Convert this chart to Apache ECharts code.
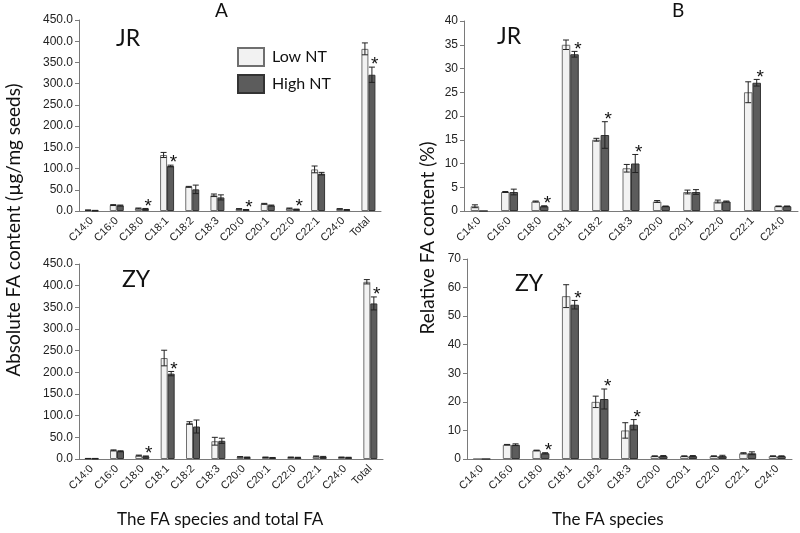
<!DOCTYPE html>
<html>
<head>
<meta charset="utf-8">
<title>FA content</title>
<script src="https://cdn.jsdelivr.net/npm/echarts@6/dist/echarts.min.js"></script>
<style>
  html, body { margin: 0; padding: 0; background: #fff; }
  #main { width: 800px; height: 533px; }
</style>
</head>
<body>
<div id="main"></div>
<script>
// categories
var catsA = ['C14:0', 'C16:0', 'C18:0', 'C18:1', 'C18:2', 'C18:3', 'C20:0', 'C20:1', 'C22:0', 'C22:1', 'C24:0', 'Total'];
var catsB = ['C14:0', 'C16:0', 'C18:0', 'C18:1', 'C18:2', 'C18:3', 'C20:0', 'C20:1', 'C22:0', 'C22:1', 'C24:0'];

// A - JR, absolute content
var aJrLow = [2, 14, 6, 132, 57, 37, 5, 17, 6, 98, 5, 382];
var aJrLowErr = [0.5, 1, 1, 6, 1, 3, 0.5, 1, 1, 8, 0.5, 14];
var aJrHigh = [1, 13, 5, 106, 51, 32, 3, 13, 4, 88, 3, 321];
var aJrHighErr = [0.5, 1, 1, 2, 10, 6, 0.5, 1, 0.5, 3, 0.5, 18];
var aJrStar = ['C18:0', 'C18:1', 'C20:0', 'C22:0', 'Total'];

// A - ZY, absolute content
var aZyLow = [1, 20, 8, 233, 83, 41, 5, 4, 4, 6, 4, 409];
var aZyLowErr = [0.3, 1, 1, 18, 3, 9, 0.5, 0.5, 0.5, 1, 0.5, 5];
var aZyHigh = [1, 18, 6, 197, 75, 42, 4, 3, 3.5, 5, 3.5, 359];
var aZyHighErr = [0.3, 1, 1, 5, 15, 6, 0.5, 0.5, 0.5, 1, 0.5, 15];
var aZyStar = ['C18:0', 'C18:1', 'Total'];

// B - JR, relative content
var bJrLow = [1, 4, 2, 35, 15, 9, 2, 4, 2, 25, 1];
var bJrLowErr = [0.3, 0.1, 0.1, 1, 0.3, 0.8, 0.2, 0.4, 0.3, 2.2, 0.05];
var bJrHigh = [0, 4, 1, 33, 16, 10, 1, 4, 2, 27, 1];
var bJrHighErr = [0, 0.6, 0.1, 0.6, 2.8, 1.9, 0.05, 0.5, 0.1, 0.7, 0.05];
var bJrStar = ['C18:0', 'C18:1', 'C18:2', 'C18:3', 'C22:1'];

// B - ZY, relative content
var bZyLow = [0, 5, 3, 57, 20, 10, 1, 1, 1, 2, 1];
var bZyLowErr = [0, 0.1, 0.1, 4, 2, 2.7, 0.1, 0.1, 0.1, 0.2, 0.1];
var bZyHigh = [0, 5, 2, 54, 21, 12, 1, 1, 1, 2, 1];
var bZyHighErr = [0, 0.3, 0.2, 1.5, 3.5, 1.8, 0.2, 0.2, 0.3, 0.5, 0.1];
var bZyStar = ['C18:0', 'C18:1', 'C18:2', 'C18:3'];

var lowColor = '#f2f2f2', lowBorder = '#6f6f6f';
var highColor = '#5c5c5c', highBorder = '#333333';
var titleFont = 'Lato';
var tickFont = 'Liberation Sans';

var chart = echarts.init(document.getElementById('main'));

function errRender(cats, low, lowErr, high, highErr, stars, bw) {
  return function (params, api) {
    var i = api.value(0);
    var kids = [];
    [[low, lowErr, -bw / 2], [high, highErr, bw / 2]].forEach(function (s) {
      var v = s[0][i], e = s[1][i];
      if (!e) return;
      var t = api.coord([i, v + e]);
      var b = api.coord([i, Math.max(v - e, 0)]);
      var x = t[0] + s[2];
      var st = { stroke: '#222', lineWidth: 1 };
      kids.push({ type: 'line', shape: { x1: x, y1: t[1], x2: x, y2: b[1] }, style: st });
      kids.push({ type: 'line', shape: { x1: x - 3, y1: t[1], x2: x + 3, y2: t[1] }, style: st });
      kids.push({ type: 'line', shape: { x1: x - 3, y1: b[1], x2: x + 3, y2: b[1] }, style: st });
    });
    if (stars.indexOf(cats[i]) >= 0) {
      var p = api.coord([i, high[i] + highErr[i]]);
      kids.push({
        type: 'text',
        style: {
          text: '*', x: p[0] + bw * 0.9, y: p[1] - 2,
          fill: '#111', font: '19px "Liberation Sans"',
          textAlign: 'center', textVerticalAlign: 'middle'
        }
      });
    }
    return { type: 'group', children: kids };
  };
}

function xAx(idx, cats) {
  return {
    type: 'category', gridIndex: idx, data: cats,
    axisLine: { lineStyle: { color: '#7a7a7a' } },
    axisTick: { lineStyle: { color: '#7a7a7a' }, length: 4 },
    axisLabel: { rotate: 45, fontSize: 11, color: '#222', fontFamily: tickFont, margin: 8 }
  };
}

function yAx(idx, max, step, dec) {
  return {
    type: 'value', gridIndex: idx, min: 0, max: max, interval: step,
    axisLine: { show: true, lineStyle: { color: '#7a7a7a' } },
    axisTick: { show: true, lineStyle: { color: '#7a7a7a' }, length: 4 },
    splitLine: { show: false },
    axisLabel: {
      fontSize: 12, color: '#222', fontFamily: tickFont, margin: 6,
      formatter: function (v) { return dec ? v.toFixed(1) : String(v); }
    }
  };
}

function panel(idx, cats, low, lowErr, high, highErr, stars, bw) {
  return [
    {
      name: 'Low NT', type: 'bar', xAxisIndex: idx, yAxisIndex: idx,
      data: low, barWidth: bw, barGap: '0%',
      itemStyle: { color: lowColor, borderColor: lowBorder, borderWidth: 1 }
    },
    {
      name: 'High NT', type: 'bar', xAxisIndex: idx, yAxisIndex: idx,
      data: high, barWidth: bw, barGap: '0%',
      itemStyle: { color: highColor, borderColor: highBorder, borderWidth: 1 }
    },
    {
      type: 'custom', xAxisIndex: idx, yAxisIndex: idx, z: 5,
      data: cats.map(function (c, i) { return [i]; }),
      renderItem: errRender(cats, low, lowErr, high, highErr, stars, bw)
    }
  ];
}

var series = [].concat(
  panel(0, catsA, aJrLow, aJrLowErr, aJrHigh, aJrHighErr, aJrStar, 7),
  panel(1, catsA, aZyLow, aZyLowErr, aZyHigh, aZyHighErr, aZyStar, 7),
  panel(2, catsB, bJrLow, bJrLowErr, bJrHigh, bJrHighErr, bJrStar, 8.5),
  panel(3, catsB, bZyLow, bZyLowErr, bZyHigh, bZyHighErr, bZyStar, 8.5)
);

function txt(text, left, top, size) {
  return {
    type: 'text', left: left, top: top,
    style: { text: text, fill: '#111', font: size + 'px "' + titleFont + '"' }
  };
}

chart.setOption({
  animation: false,
  backgroundColor: '#fff',
  grid: [
    { left: 79, right: 419, top: 20, bottom: 322 },
    { left: 79, right: 417, top: 264, bottom: 74 },
    { left: 464, right: 2, top: 21, bottom: 322 },
    { left: 467, right: 8, top: 259, bottom: 74 }
  ],
  xAxis: [xAx(0, catsA), xAx(1, catsA), xAx(2, catsB), xAx(3, catsB)],
  yAxis: [yAx(0, 450, 50, true), yAx(1, 450, 50, true), yAx(2, 40, 5, false), yAx(3, 70, 10, false)],
  legend: {
    data: ['Low NT', 'High NT'],
    orient: 'vertical', left: 237, top: 47, padding: 0,
    itemWidth: 26, itemHeight: 18, itemGap: 7,
    icon: 'rect',
    textStyle: { fontSize: 16, color: '#111', fontFamily: titleFont, padding: [0, 0, 0, 3] }
  },
  graphic: [
    txt('A', 215, 1, 19),
    txt('B', 672, 1, 19),
    txt('JR', 116, 27, 23),
    txt('ZY', 122, 268, 23),
    txt('JR', 497, 25, 23),
    txt('ZY', 515, 272, 23),
    txt('The FA species and total FA', 117, 511, 17),
    txt('The FA species', 552, 511, 17),
    {
      type: 'text', x: 14, y: 230, rotation: Math.PI / 2,
      style: {
        text: 'Absolute FA content (\u00b5g/mg seeds)', fill: '#111',
        font: '19px "' + titleFont + '"', textAlign: 'center', textVerticalAlign: 'middle'
      }
    },
    {
      type: 'text', x: 428, y: 238, rotation: Math.PI / 2,
      style: {
        text: 'Relative FA content (%)', fill: '#111',
        font: '19px "' + titleFont + '"', textAlign: 'center', textVerticalAlign: 'middle'
      }
    }
  ],
  series: series
});
</script>
</body>
</html>
